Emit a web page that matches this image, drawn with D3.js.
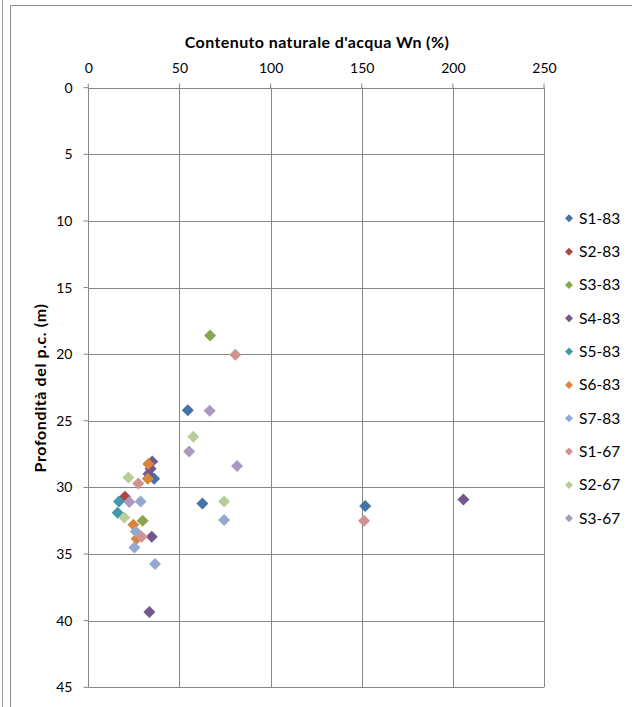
<!DOCTYPE html>
<html>
<head>
<meta charset="utf-8">
<script src="https://cdn.jsdelivr.net/npm/d3@7"></script>
<style>
  html, body { margin: 0; padding: 0; background: #fff; }
  svg { display: block; font-family: Lato, "Open Sans", "Liberation Sans", sans-serif; }
</style>
</head>
<body>
<svg id="chart" width="632" height="707"></svg>
<script>
// Water content (%) vs depth (m), one array pair per borehole
const seriesNames = ["S1-83", "S2-83", "S3-83", "S4-83", "S5-83", "S6-83", "S7-83", "S1-67", "S2-67", "S3-67"];
const seriesColors = ["#4572A7", "#AA4643", "#89A54E", "#71588F", "#4198AF", "#DB843D", "#93A9CF", "#D19392", "#B9CD96", "#A99BBD"];

const s1_83_wn    = [54.6, 36.1, 62.6, 151.9];
const s1_83_depth = [24.2, 29.35, 31.2, 31.4];
const s2_83_wn    = [20.1];
const s2_83_depth = [30.7];
const s3_83_wn    = [66.8, 29.8];
const s3_83_depth = [18.6, 32.5];
const s4_83_wn    = [35.1, 34.2, 33.0, 205.8, 34.8, 33.5];
const s4_83_depth = [28.05, 28.6, 29.0, 30.9, 33.7, 39.35];
const s5_83_wn    = [16.8, 16.1];
const s5_83_depth = [31.05, 31.9];
const s6_83_wn    = [32.9, 32.6, 24.7, 26.5];
const s6_83_depth = [28.25, 29.35, 32.8, 33.85];
const s7_83_wn    = [28.7, 74.5, 26.0, 25.3, 36.6];
const s7_83_depth = [31.05, 32.45, 33.3, 34.5, 35.75];
const s1_67_wn    = [80.7, 27.4, 151.3, 29.3];
const s1_67_depth = [20.05, 29.7, 32.5, 33.7];
const s2_67_wn    = [57.6, 22.0, 74.5, 19.8];
const s2_67_depth = [26.2, 29.25, 31.05, 32.25];
const s3_67_wn    = [66.6, 55.3, 81.6, 22.5];
const s3_67_depth = [24.25, 27.3, 28.4, 31.1];

const xTicks = [0, 50, 100, 150, 200, 250];
const yTicks = [0, 5, 10, 15, 20, 25, 30, 35, 40, 45];

const seriesWn = [s1_83_wn, s2_83_wn, s3_83_wn, s4_83_wn, s5_83_wn, s6_83_wn, s7_83_wn, s1_67_wn, s2_67_wn, s3_67_wn];
const seriesDepth = [s1_83_depth, s2_83_depth, s3_83_depth, s4_83_depth, s5_83_depth, s6_83_depth, s7_83_depth, s1_67_depth, s2_67_depth, s3_67_depth];

const series = seriesNames.map((name, i) => ({
  name,
  color: seriesColors[i],
  points: seriesWn[i].map((w, j) => ({ w, d: seriesDepth[i][j] }))
}));

const svg = d3.select("#chart");
const gridColor = "#868686";

// Outer frame lines
svg.append("line").attr("x1", 2.5).attr("x2", 2.5).attr("y1", 0).attr("y2", 707)
  .attr("stroke", "#9a9a9a").attr("stroke-width", 1);
svg.append("path").attr("d", "M10.5,707 V5.5 H632")
  .attr("fill", "none").attr("stroke", "#8c8c8c").attr("stroke-width", 1);

const plot = { left: 88.3, right: 544, top: 87.7, bottom: 687.3 };

const x = d3.scaleLinear().domain([0, 250]).range([plot.left, plot.right]);
const y = d3.scaleLinear().domain([0, 45]).range([plot.top, plot.bottom]);

// Gridlines
svg.append("g").selectAll("line").data(xTicks).join("line")
  .attr("x1", d => Math.round(x(d)) + 0.5).attr("x2", d => Math.round(x(d)) + 0.5)
  .attr("y1", plot.top).attr("y2", plot.bottom)
  .attr("stroke", gridColor).attr("stroke-width", 1);
svg.append("g").selectAll("line").data(yTicks).join("line")
  .attr("x1", plot.left).attr("x2", plot.right)
  .attr("y1", d => Math.round(y(d)) + 0.5).attr("y2", d => Math.round(y(d)) + 0.5)
  .attr("stroke", gridColor).attr("stroke-width", 1);

// Axes
const xAxis = d3.axisTop(x).tickValues(xTicks).tickSize(5).tickPadding(11);
const yAxis = d3.axisLeft(y).tickValues(yTicks).tickSize(5).tickPadding(11);

const gx = svg.append("g").attr("transform", `translate(0,${Math.round(plot.top) + 0.5})`).call(xAxis);
const gy = svg.append("g").attr("transform", `translate(${Math.round(plot.left) + 0.5},0)`).call(yAxis);
[gx, gy].forEach(g => {
  g.select(".domain").remove();
  g.selectAll(".tick line").attr("stroke", gridColor);
  g.selectAll("text").attr("fill", "#000").style("font-size", "14px")
    .style("font-family", "Lato, 'Open Sans', sans-serif");
});
gx.selectAll(".tick line").attr("transform", "translate(-0.5,0)");
gy.selectAll(".tick line").attr("transform", "translate(0,-0.5)");

// Titles
svg.append("text").attr("x", 317).attr("y", 48).attr("text-anchor", "middle")
  .style("font-size", "16px").style("font-weight", "bold").style("letter-spacing", "0.4px")
  .text("Contenuto naturale d'acqua Wn (%)");
svg.append("text").attr("transform", "translate(46,388) rotate(-90)").attr("text-anchor", "middle")
  .style("font-size", "16px").style("font-weight", "bold").style("letter-spacing", "0.6px")
  .text("Profondità del p.c. (m)");

// Diamond marker path (half-diagonal r)
const diamond = r => `M0,${-r}L${r},0L0,${r}L${-r},0Z`;

// Data points
const gs = svg.append("g").selectAll("g").data(series).join("g").attr("fill", d => d.color);
gs.selectAll("path").data(d => d.points).join("path")
  .attr("d", diamond(6))
  .attr("transform", p => `translate(${x(p.w)},${y(p.d)})`);

// Legend
const legend = svg.append("g").selectAll("g").data(series).join("g")
  .attr("transform", (d, i) => `translate(569,${218.3 + i * 33.33})`);
legend.append("path").attr("d", diamond(4)).attr("fill", d => d.color);
legend.append("text").attr("x", 10).attr("y", 5.5).style("font-size", "15.5px").text(d => d.name);
</script>
</body>
</html>
